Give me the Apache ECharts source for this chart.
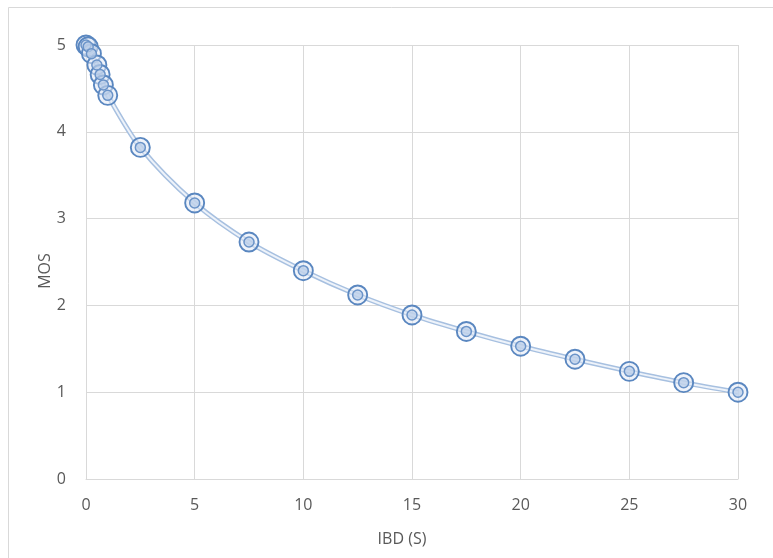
<!DOCTYPE html>
<html><head><meta charset="utf-8">
<script src="https://cdn.jsdelivr.net/npm/echarts@6/dist/echarts.min.js"></script>
<style>html,body{margin:0;padding:0;background:#fff}#c{width:773px;height:558px}</style>
</head><body><div id="c"></div>
<script>
const ibd = [0, 0.1, 0.25, 0.5, 0.65, 0.8, 1, 2.5, 5, 7.5, 10, 12.5, 15, 17.5, 20, 22.5, 25, 27.5, 30];
const mos = [5.0, 4.98, 4.9, 4.77, 4.66, 4.54, 4.42, 3.82, 3.18, 2.73, 2.40, 2.12, 1.89, 1.70, 1.53, 1.38, 1.24, 1.11, 1.0];
const xTicks = [0, 5, 10, 15, 20, 25, 30];
const yTicks = [0, 1, 2, 3, 4, 5];
const pts = ibd.map((x, i) => [x, mos[i]]);
const font = '"Open Sans", sans-serif';
const chart = echarts.init(document.getElementById('c'));
chart.setOption({
  animation: false,
  backgroundColor: '#fff',
  graphic: [{type: 'rect', shape: {x: 8.5, y: 7.5, width: 800, height: 600}, style: {fill: 'none', stroke: '#d9d9d9', lineWidth: 1}}],
  grid: {left: 86, right: 35, top: 45, bottom: 79},
  xAxis: {
    type: 'value', min: xTicks[0], max: xTicks[xTicks.length - 1], interval: 5,
    name: 'IBD (S)', nameLocation: 'middle', nameGap: 52,
    nameTextStyle: {color: '#595959', fontSize: 16, fontFamily: font, padding: [0, 20, 0, 0]},
    axisLine: {show: true, lineStyle: {color: '#d9d9d9'}},
    axisTick: {show: false},
    splitLine: {show: true, lineStyle: {color: '#d9d9d9', width: 1}},
    axisLabel: {color: '#595959', fontSize: 16, fontFamily: font, margin: 18}
  },
  yAxis: {
    type: 'value', min: yTicks[0], max: yTicks[yTicks.length - 1], interval: 1,
    name: 'MOS', nameLocation: 'middle', nameGap: 33, nameMoveOverlap: false,
    nameTextStyle: {color: '#595959', fontSize: 16, fontFamily: font, padding: [0, 18, 0, 0]},
    axisLine: {show: false}, axisTick: {show: false},
    splitLine: {show: true, lineStyle: {color: '#d9d9d9', width: 1}},
    axisLabel: {color: '#595959', fontSize: 16, fontFamily: font, margin: 20}
  },
  series: [
    {type: 'line', data: pts, smooth: 0.3, showSymbol: false, lineStyle: {color: '#a7c0e0', width: 5}, z: 2},
    {type: 'line', data: pts, smooth: 0.3, showSymbol: false, lineStyle: {color: '#eef3fa', width: 2}, z: 3},
    {type: 'scatter', data: pts, symbolSize: 19, itemStyle: {color: 'rgba(225,234,245,0.55)', borderColor: '#5a87c0', borderWidth: 1.9, opacity: 1}, z: 4},
    {type: 'scatter', data: pts, symbolSize: 10, itemStyle: {color: 'rgba(185,205,232,0.7)', borderColor: '#6a93c8', borderWidth: 1.5, opacity: 1}, z: 5}
  ]
});
</script></body></html>
